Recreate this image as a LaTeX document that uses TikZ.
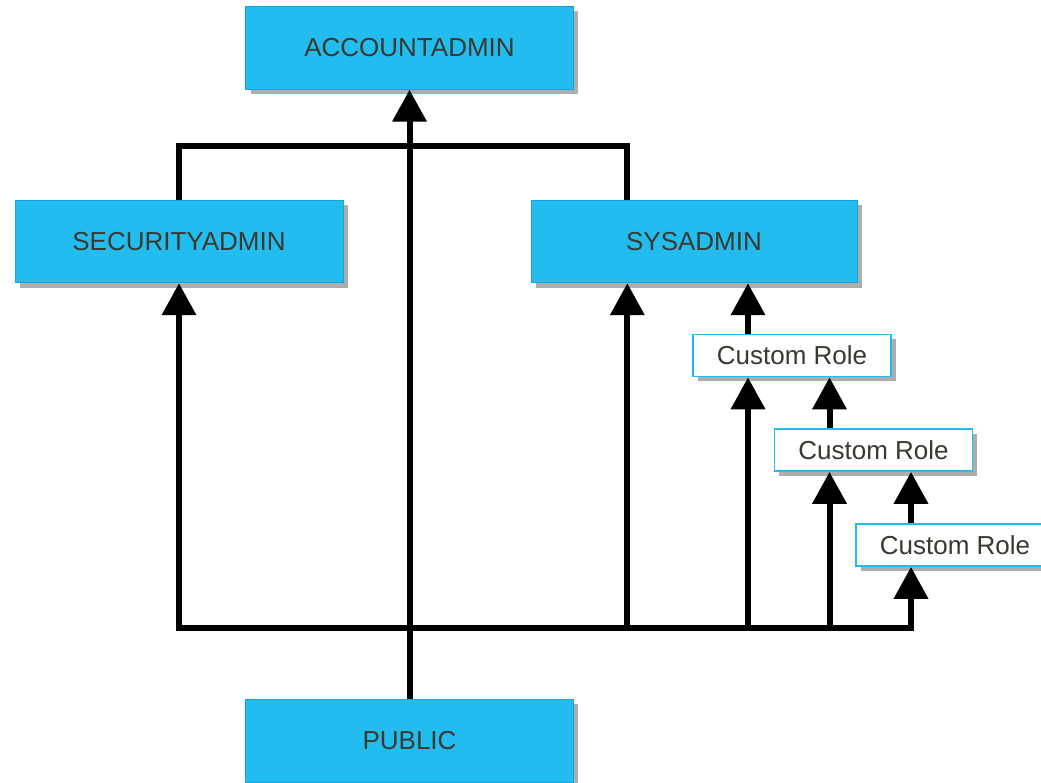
\documentclass[tikz,border=0pt]{standalone}
\usepackage{fontspec}
\setmainfont{Liberation Sans}
\usetikzlibrary{positioning,shapes,arrows.meta,shadows}

\definecolor{roleblue}{RGB}{34,188,239}
\definecolor{roleedge}{RGB}{20,165,220}
\definecolor{roletext}{RGB}{58,56,48}

\tikzset{
    rolebox/.style={rectangle,fill=roleblue,draw=roleedge,line width=0.6pt,inner sep=0pt,
        minimum width=245.5pt,minimum height=62pt,text=roletext,font=\fontsize{19.5}{23}\selectfont,
        drop shadow={shadow xshift=3.5pt,shadow yshift=-3.5pt,fill=black!40,opacity=0.8}},
    custombox/.style={rectangle,fill=white,draw=roleblue,line width=1.3pt,inner sep=0pt,
        minimum width=148.5pt,minimum height=31.5pt,text=roletext,font=\fontsize{19.5}{23}\selectfont,
        drop shadow={shadow xshift=3.5pt,shadow yshift=-3.5pt,fill=black!40,opacity=0.8}},
    link/.style={draw=black,line width=4.5pt},
    grant/.style={link,-{Triangle[length=24pt,width=25pt]}}
}

\begin{document}
\begin{tikzpicture}[x=0.75pt,y=-0.75pt]
            \useasboundingbox (0,0) rectangle (1041,782);

            % roles
            \node[rolebox] (acct) at (409.5,48) {ACCOUNTADMIN};
            \node[rolebox,minimum width=246pt] (secadm) at (179,241.5) {SECURITYADMIN};
            \node[rolebox,minimum width=244.5pt] (sysadm) at (694,241.5) {SYSADMIN};
            \node[rolebox] (public) at (409.5,741) {PUBLIC};
            \node[custombox] (cr1) at (792,355.5) {Custom Role};
            \node[custombox] (cr2) at (873.5,450) {Custom Role};
            \node[custombox] (cr3) at (955,545) {Custom Role};

            \coordinate (top) at (409.5,146);
            \coordinate (bus) at (409.5,628);

            % grants upward
            \draw[link] (secadm.north) |- (top) -| ([xshift=-50pt]sysadm.north);
            \draw[grant] (public.north) -- (acct.south);
            \draw[grant] (bus) -| (secadm.south);
            \draw[grant] (bus) -| ([xshift=-50pt]sysadm.south);
            \draw[grant] (bus) -| ([xshift=-33pt]cr1.south);
            \draw[grant] (bus) -| ([xshift=-33pt]cr2.south);
            \draw[grant] (bus) -| ([xshift=-33pt]cr3.south);
            \draw[grant] ([xshift=-33pt]cr1.north) -- ([xshift=-33pt]cr1.north |- sysadm.south);
            \draw[grant] ([xshift=-33pt]cr2.north) -- ([xshift=-33pt]cr2.north |- cr1.south);
            \draw[grant] ([xshift=-33pt]cr3.north) -- ([xshift=-33pt]cr3.north |- cr2.south);
        \end{tikzpicture}
\end{document}
